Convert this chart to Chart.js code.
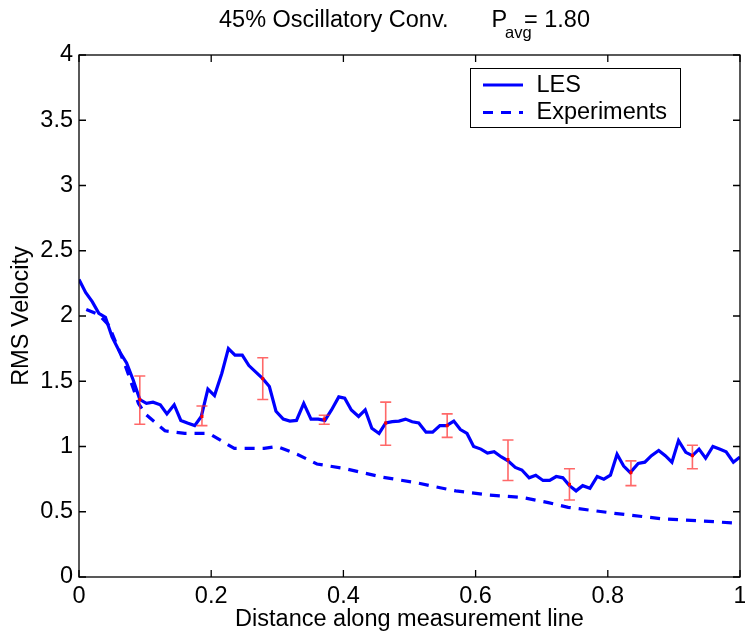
<!DOCTYPE html>
<html>
<head>
<meta charset="utf-8">
<title>RMS Velocity</title>
<script src="https://cdn.jsdelivr.net/npm/chart.js@4/dist/chart.umd.min.js"></script>
<style>
  body { margin: 0; background: #fff; }
  canvas { display: block; }
</style>
</head>
<body>
<canvas id="rmsChart" width="745" height="634"></canvas>
<script>
// data

const lesX = [0.000, 0.010, 0.020, 0.030, 0.040, 0.050, 0.061, 0.072, 0.082, 0.092,
    0.102, 0.112, 0.123, 0.133, 0.144, 0.154, 0.164, 0.175, 0.185, 0.195,
    0.205, 0.216, 0.226, 0.236, 0.247, 0.257, 0.278, 0.288, 0.298, 0.309,
    0.319, 0.329, 0.340, 0.351, 0.362, 0.372, 0.382, 0.393, 0.402, 0.412,
    0.423, 0.433, 0.443, 0.454, 0.464, 0.474, 0.484, 0.494, 0.504, 0.514,
    0.525, 0.535, 0.546, 0.556, 0.567, 0.577, 0.587, 0.597, 0.608, 0.618,
    0.628, 0.639, 0.649, 0.660, 0.670, 0.681, 0.691, 0.702, 0.712, 0.722,
    0.732, 0.742, 0.752, 0.762, 0.773, 0.784, 0.794, 0.804, 0.814, 0.824,
    0.834, 0.846, 0.856, 0.866, 0.877, 0.887, 0.897, 0.907, 0.918, 0.928,
    0.938, 0.948, 0.959, 0.969, 0.979, 0.990, 1.000];
const lesY = [2.28, 2.18, 2.11, 2.02, 1.99, 1.84, 1.73, 1.64, 1.51, 1.36,
    1.33, 1.34, 1.32, 1.25, 1.32, 1.20, 1.18, 1.16, 1.23, 1.44,
    1.39, 1.56, 1.75, 1.70, 1.70, 1.62, 1.52, 1.46, 1.27, 1.21,
    1.195, 1.20, 1.33, 1.21, 1.21, 1.20, 1.28, 1.38, 1.37, 1.28,
    1.23, 1.28, 1.14, 1.10, 1.18, 1.19, 1.195, 1.21, 1.19, 1.18,
    1.11, 1.11, 1.16, 1.16, 1.195, 1.13, 1.10, 1.00, 0.98, 0.95,
    0.96, 0.92, 0.89, 0.84, 0.82, 0.76, 0.78, 0.74, 0.74, 0.77,
    0.76, 0.70, 0.66, 0.70, 0.68, 0.77, 0.75, 0.78, 0.94, 0.85,
    0.80, 0.87, 0.88, 0.93, 0.97, 0.93, 0.88, 1.045, 0.955, 0.93,
    0.98, 0.91, 1.00, 0.98, 0.96, 0.88, 0.92];

const expX = [0.011, 0.030, 0.045, 0.070, 0.090, 0.100, 0.130, 0.160, 0.190, 0.200,
    0.235, 0.280, 0.300, 0.330, 0.360, 0.400, 0.460, 0.510, 0.550, 0.570,
    0.620, 0.670, 0.710, 0.740, 0.810, 0.880, 0.960, 1.000];
const expY = [2.05, 2.01, 1.93, 1.62, 1.33, 1.25, 1.12, 1.10, 1.10, 1.09,
    0.985, 0.985, 1.00, 0.94, 0.866, 0.833, 0.764, 0.723, 0.68, 0.66,
    0.628, 0.61, 0.57, 0.534, 0.488, 0.447, 0.424, 0.41];

// error bars on the LES curve
const errX = [0.092, 0.186, 0.278, 0.371, 0.464, 0.557, 0.649, 0.742, 0.835, 0.928];
const errMid = [1.36, 1.23, 1.52, 1.21, 1.18, 1.16, 0.90, 0.71, 0.80, 0.93];
const errLow = [1.17, 1.16, 1.36, 1.17, 1.01, 1.07, 0.74, 0.59, 0.70, 0.83];
const errHigh = [1.54, 1.31, 1.68, 1.24, 1.34, 1.25, 1.05, 0.83, 0.89, 1.01];

const xTicks = [0, 0.2, 0.4, 0.6, 0.8, 1];
const xTickLabels = ['0', '0.2', '0.4', '0.6', '0.8', '1'];
const yTicks = [0, 0.5, 1, 1.5, 2, 2.5, 3, 3.5, 4];
const yTickLabels = ['0', '0.5', '1', '1.5', '2', '2.5', '3', '3.5', '4'];

const FONT = '"Liberation Sans", Arial, Helvetica, sans-serif';
const BLUE = '#0000ff';

const toPoints = (xs, ys) => xs.map((x, i) => ({ x: x, y: ys[i] }));

// frame with inward ticks on all four sides (matlab style box)
const framePlugin = {
    id: 'frame',
    afterDraw(chart) {
        const { ctx, chartArea: a, scales } = chart;
        const tl = 7;
        ctx.save();
        ctx.strokeStyle = '#000';
        ctx.lineWidth = 1.3;
        ctx.strokeRect(a.left, a.top, a.right - a.left, a.bottom - a.top);
        ctx.beginPath();
        xTicks.forEach(v => {
            const px = scales.x.getPixelForValue(v);
            ctx.moveTo(px, a.bottom); ctx.lineTo(px, a.bottom - tl);
            ctx.moveTo(px, a.top); ctx.lineTo(px, a.top + tl);
        });
        yTicks.forEach(v => {
            const py = scales.y.getPixelForValue(v);
            ctx.moveTo(a.left, py); ctx.lineTo(a.left + tl, py);
            ctx.moveTo(a.right, py); ctx.lineTo(a.right - tl, py);
        });
        ctx.stroke();
        ctx.restore();
    }
};

const errorBarPlugin = {
    id: 'errorBars',
    afterDatasetsDraw(chart) {
        const { ctx, scales } = chart;
        const cap = 5.5;
        ctx.save();
        ctx.strokeStyle = 'rgba(255, 40, 40, 0.7)';
        ctx.lineWidth = 1.6;
        errX.forEach((x, i) => {
            const px = scales.x.getPixelForValue(x);
            const lo = scales.y.getPixelForValue(errLow[i]);
            const hi = scales.y.getPixelForValue(errHigh[i]);
            ctx.beginPath();
            ctx.moveTo(px, lo); ctx.lineTo(px, hi);
            ctx.moveTo(px - cap, lo); ctx.lineTo(px + cap, lo);
            ctx.moveTo(px - cap, hi); ctx.lineTo(px + cap, hi);
            ctx.stroke();
            ctx.fillStyle = '#ff0000';
            ctx.fillRect(px - 1.5, scales.y.getPixelForValue(errMid[i]) - 1.5, 3, 3);
        });
        ctx.restore();
    }
};

// legend box inside the plot + title with subscript
const textPlugin = {
    id: 'texts',
    afterDraw(chart) {
        const ctx = chart.ctx;
        const ds = chart.data.datasets;
        ctx.save();
        ctx.fillStyle = '#000';
        ctx.font = '23.5px ' + FONT;
        ctx.textBaseline = 'alphabetic';
        ctx.fillText('45% Oscillatory Conv.', 219, 26.7);
        ctx.fillText('P', 491.5, 26.7);
        ctx.fillText('= 1.80', 524, 26.7);
        ctx.font = '16.5px ' + FONT;
        ctx.fillText('avg', 505, 38.3);

        // legend
        ctx.fillStyle = '#fff';
        ctx.fillRect(470.5, 68.5, 210, 59);
        ctx.strokeStyle = '#000';
        ctx.lineWidth = 1;
        ctx.strokeRect(470.5, 68.5, 210, 59);
        const rows = [85, 112.5];
        ds.forEach((d, i) => {
            ctx.strokeStyle = d.borderColor;
            ctx.lineWidth = d.borderWidth;
            ctx.setLineDash(d.borderDash || []);
            ctx.beginPath();
            ctx.moveTo(483, rows[i]);
            ctx.lineTo(523, rows[i]);
            ctx.stroke();
            ctx.setLineDash([]);
            ctx.fillStyle = '#000';
            ctx.font = '23.5px ' + FONT;
            ctx.fillText(d.label, 536.5, rows[i] + 6.8);
        });
        ctx.restore();
    }
};

const ctx = document.getElementById('rmsChart').getContext('2d');

const chart = new Chart(ctx, {
    type: 'line',
    data: {
        datasets: [{
            label: 'LES',
            data: toPoints(lesX, lesY),
            borderColor: BLUE,
            borderWidth: 3.2,
            pointRadius: 0,
            tension: 0,
            fill: false
        }, {
            label: 'Experiments',
            data: toPoints(expX, expY),
            borderColor: BLUE,
            borderWidth: 3.2,
            borderDash: [10, 8],
            pointRadius: 0,
            tension: 0,
            fill: false
        }]
    },
    options: {
        responsive: false,
        animation: false,
        events: [],
        layout: { padding: { top: 55, right: 5, bottom: 0, left: 0 } },
        plugins: {
            legend: { display: false },
            title: { display: false },
            tooltip: { enabled: false }
        },
        scales: {
            x: {
                type: 'linear',
                min: 0,
                max: 1,
                grid: { display: false, drawTicks: false },
                border: { display: false },
                afterBuildTicks: (scale) => { scale.ticks = xTicks.map(v => ({ value: v })); },
                afterFit: (scale) => {
                    scale.height = 57;
                    scale.paddingLeft = 0;
                    scale.paddingRight = 0;
                },
                ticks: {
                    padding: 5,
                    color: '#000',
                    font: { family: FONT, size: 23.5 },
                    maxRotation: 0,
                    callback: (value) => xTickLabels[xTicks.indexOf(value)]
                },
                title: {
                    display: true,
                    text: 'Distance along measurement line',
                    color: '#000',
                    font: { family: FONT, size: 23.5 },
                    padding: { top: 0, bottom: 0 }
                }
            },
            y: {
                type: 'linear',
                min: 0,
                max: 4,
                grid: { display: false, drawTicks: false },
                border: { display: false },
                afterBuildTicks: (scale) => { scale.ticks = yTicks.map(v => ({ value: v })); },
                afterFit: (scale) => {
                    scale.width = 79;
                    scale.paddingTop = 0;
                    scale.paddingBottom = 0;
                },
                ticks: {
                    padding: 6,
                    color: '#000',
                    font: { family: FONT, size: 23.5 },
                    callback: (value) => yTickLabels[yTicks.indexOf(value)]
                },
                title: {
                    display: true,
                    text: 'RMS Velocity',
                    color: '#000',
                    font: { family: FONT, size: 23.5 },
                    padding: { top: 7, bottom: 0 }
                }
            }
        }
    },
    plugins: [errorBarPlugin, framePlugin, textPlugin]
});
</script>
</body>
</html>
